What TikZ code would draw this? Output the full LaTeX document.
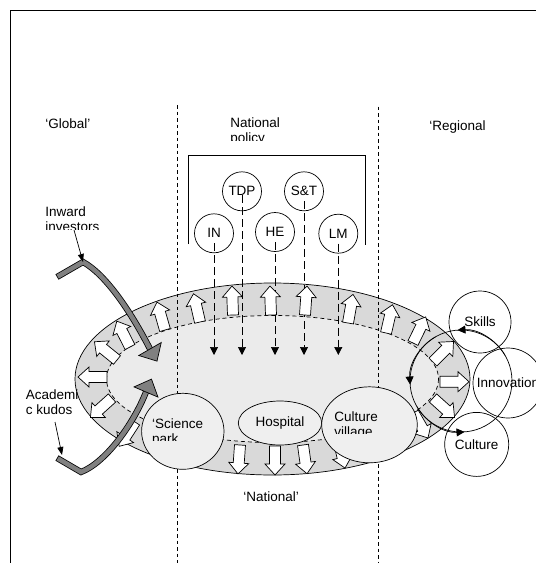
\documentclass[tikz,border=0pt]{standalone}
\usepackage{fontspec}
\setmainfont{Liberation Sans}
\usetikzlibrary{arrows.meta,shapes.geometric,positioning}
\definecolor{ringgray}{HTML}{D9D9D9}
\definecolor{corelight}{HTML}{EBEBEB}
\definecolor{sitefill}{HTML}{EFEFEF}
\definecolor{flowgray}{HTML}{808080}

\begin{document}
\begin{tikzpicture}[x=1pt,y=-1pt,line width=0.7pt,font=\fontsize{13.5}{15}\selectfont,
 lbl/.style={inner sep=0pt,align=left},
 bubble/.style={circle,draw,inner sep=0pt,minimum size=39pt},
 site/.style={ellipse,draw,fill=sitefill,inner sep=0pt},
 divider/.style={dash pattern=on 3.5pt off 3pt},
 policyarrow/.style={dash pattern=on 8pt off 4pt,-{Triangle[length=8pt,width=8pt]}},
 cyclearrow/.style={-{Triangle[length=8pt,width=8pt]}},
 lblarrow/.style={-{Triangle[length=8pt,width=6pt]}},
 flowouter/.style={line width=6.2pt,line join=miter},
 flowinner/.style={line width=4.6pt,line join=miter,draw=flowgray,shorten <=0.8pt},
 ringarrow/.pic={\draw[fill=white] (0,-5.5) -- (18,-5.5) -- (18,-10) -- (29,0) -- (18,10) -- (18,5.5) -- (0,5.5) -- cycle;},
 flowhead/.pic={\draw[fill=flowgray] (0,-13) -- (14,0) -- (0,13) -- cycle;}]
\useasboundingbox (0,0) rectangle (536,563);
% frame
\draw (10,563) -- (10,10) -- (536,10);
% region labels
\node[lbl,anchor=base west] (global) at (45,128) {‘Global’};
\node[lbl,anchor=base west] (regional) at (429,130) {‘Regional};
\node[lbl,anchor=base west] (national) at (243,501.5) {‘National’};
\begin{scope}
\clip (220,100) rectangle (320,140);
\node[lbl,anchor=base west] (policy) at (230,142) {National\\policy};
\end{scope}
% the ring
\coordinate (core) at (272.5,379);
\draw[fill=ringgray] (core) ellipse [x radius=197.5,y radius=96];
\draw[fill=corelight,dash pattern=on 4pt off 3pt] (core) ellipse [x radius=166,y radius=63.5];
\draw[divider] (177.7,105) -- (177.7,563);
\draw[divider] (378.3,106.7) -- (378.3,563);
% national policy instruments
\draw (188.3,244) -- (188.3,155.7) -- (365.7,155.7) -- (365.7,245);
\node[bubble] (tdp) at (242,191.3) {TDP};
\node[bubble] (st) at (304,191.3) {S\&T};
\node[bubble] (in) at (214,233.3) {IN};
\node[bubble] (he) at (275,232) {HE};
\node[bubble] (lm) at (338.3,233.7) {LM};
\coordinate (drop) at (0,355);
\draw[policyarrow] ([yshift=-4pt]tdp.center) -- (tdp.center |- drop);
\foreach \c in {st,in,he,lm}
  \draw[policyarrow] ([yshift=-10pt]\c.center) -- (\c.center |- drop);
% outward arrows round the ring
\foreach \bx/\by/\ang in {440/381.7/0,433/362/45,413/343/64,386/333/77,348/323/80,
  305/315/86,271/315/92,233/315/92,200/322/103,165/330/106,130/347/117,117/360/141,
  107/377/180,112/398/222,135/422/237,240/445/266,275/446/270,303/445/278,
  338.5/439.8/283,413.5/412.9/300,433/398/318}
  \pic[rotate=\ang] at (\bx,\by) {ringarrow};
% local sites
\node[site,minimum width=82.4pt,minimum height=76pt] (sciencepark) at (182.8,431.3) {};
\node[site,minimum width=83.4pt,minimum height=44pt] (hospital) at (280,423) {Hospital};
\node[site,minimum width=95.6pt,minimum height=76pt] (culturevillage) at (369.5,424.8) {};
\begin{scope}
\clip (140,400) rectangle (230,440);
\node[lbl,anchor=base west] (sciencetext) at (151.7,443.1) {‘Science\\park};
\end{scope}
\begin{scope}
\clip (325,395) rectangle (415,433.5);
\node[lbl,anchor=base west] (culturetext) at (334,436.5) {Culture\\village};
\end{scope}
% regional cycle
\coordinate (cyc) at (461,381);
\draw (cyc) circle [radius=51];
\foreach \s/\e in {-30/-94,-120/-184,-210/-274}
  \draw[cyclearrow] (cyc) ++(\s:51) arc [start angle=\s,end angle=\e,radius=51];
\node[bubble,minimum size=62pt] (skills) at (480,322) {Skills};
\node[bubble,minimum size=70pt] (innovation) at (508,383) {Innovation};
\node[bubble,minimum size=64pt] (culture) at (476.7,444.4) {Culture};
% global flows
\begin{scope}
\clip (15,190) rectangle (140,229.5);
\node[lbl,anchor=base west] (inward) at (45,231.5) {Inward\\investors};
\end{scope}
\begin{scope}
\clip (15,380) rectangle (140,414);
\node[lbl,anchor=base west] (academic) at (25.6,414.8) {Academi\\c kudos};
\end{scope}
\coordinate (inwtail) at (57,277);
\coordinate (inwbend) at (83,262);
\coordinate (inwhead) at (150,349);
\coordinate (inwlabel) at (74,230);
\draw[flowouter] (inwtail) -- (inwbend) .. controls (105,274) and (130,310) .. (inwhead);
\draw[flowinner] (inwtail) -- (inwbend) .. controls (105,274) and (130,310) .. (inwhead);
\pic[rotate=-60] at (inwhead) {flowhead};
\draw[lblarrow] (inwlabel) -- (inwbend);
\coordinate (acatail) at (57,458);
\coordinate (acabend) at (81,472);
\coordinate (acahead) at (146,392);
\coordinate (acalabel) at (55,422);
\draw[flowouter] (acatail) -- (acabend) .. controls (105,463) and (133,425) .. (acahead);
\draw[flowinner] (acatail) -- (acabend) .. controls (105,463) and (133,425) .. (acahead);
\pic[rotate=67] at (acahead) {flowhead};
\draw[lblarrow] (acalabel) -- (62,455);
\end{tikzpicture}
\end{document}
